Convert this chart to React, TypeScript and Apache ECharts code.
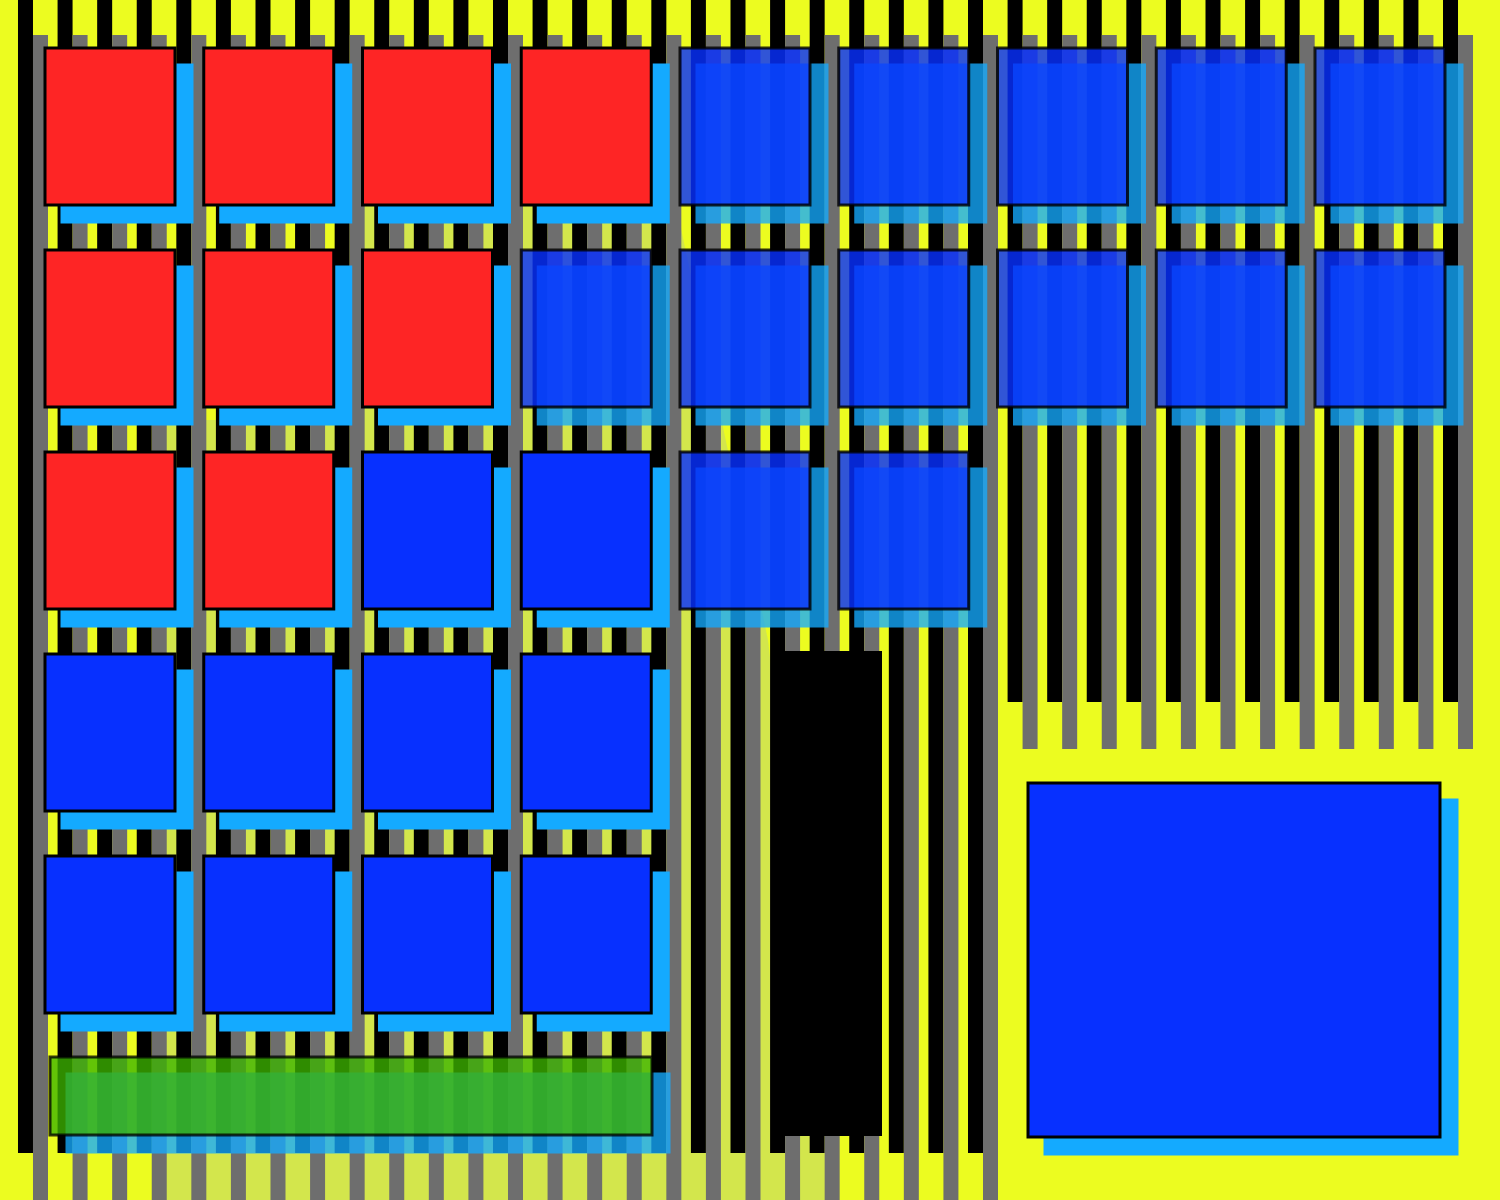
import React, { useEffect, useRef } from "react";
import * as echarts from "echarts";

// ---- stripe data (37 category bands, black bar from top, gray bar from GRAY_START) ----
const stripeCategories = [
  "S1","S2","S3","S4","S5","S6","S7","S8","S9","S10","S11","S12","S13","S14","S15","S16","S17","S18","S19",
  "S20","S21","S22","S23","S24","S25","S26","S27","S28","S29","S30","S31","S32","S33","S34","S35","S36","S37",
];
const blackEnd = [
  1153,1153,1153,1153,1153,1153,1153,1153,1153,1153,1153,1153,1153,1153,1153,1153,1153,1153,1153,1153,1153,1153,1153,1153,1153,
  702,702,702,702,702,702,702,702,702,702,702,702,
];
const grayStart = 35;
const grayEnd = [
  1200,1200,1200,1200,1200,1200,1200,1200,1200,1200,1200,1200,1200,1200,1200,1200,1200,1200,1200,1200,1200,1200,1200,1200,1200,
  749,749,749,749,749,749,749,749,749,749,749,749,
];

// ---- waffle cells: [column, row, kind]  kind 0 = red, 1 = blue, 2 = translucent blue ----
const redCells = [[0,0],[1,0],[2,0],[3,0],[0,1],[1,1],[2,1],[0,2],[1,2]];
const blueCells = [[2,2],[3,2],[0,3],[1,3],[2,3],[3,3],[0,4],[1,4],[2,4],[3,4]];
const translucentCells = [
  [4,0],[5,0],[6,0],[7,0],[8,0],
  [3,1],[4,1],[5,1],[6,1],[7,1],[8,1],
  [4,2],[5,2],
];

// ---- free blocks in page units: [x0, y0, x1, y1, kind] kind 1 = blue, 3 = green, 4 = black ----
const blocks = [
  [50, 1057, 652, 1135, 3],
  [772, 651, 882, 1136, 4],
  [1028, 783, 1440, 1137, 1],
];

// ---- pale region outline in page units ----
const paleRegion = [
  [348, 205], [676, 205], [768, 640], [832, 1200], [158, 1200], [165, 420], [348, 420],
];

const COLORS = {
  bg: "#ecfc20",
  black: "#000000",
  gray: "#6e6e6e",
  red: "#fe2525",
  blue: "#0730ff",
  shadow: "#14aaff",
  green: "#3cb400",
  pale: "rgba(170,195,150,0.38)",
};

export default function App() {
  const ref = useRef<HTMLDivElement>(null);
  useEffect(() => {
    document.body.style.margin = "0";
    if (!ref.current) return;
    const chart = echarts.init(ref.current, null, { renderer: "svg" });

    const SH = 17; // shadow offset
    const cellData = [
      ...redCells.map((c) => [c[0], c[1], 0]),
      ...blueCells.map((c) => [c[0], c[1], 1]),
      ...translucentCells.map((c) => [c[0], c[1], 2]),
    ];

    const boxItem = (x: number, y: number, w: number, h: number, kind: number) => {
      const fill = kind === 0 ? COLORS.red : kind === 3 ? COLORS.green : kind === 4 ? COLORS.black : COLORS.blue;
      const op = kind === 2 ? 0.82 : kind === 3 ? 0.78 : 1;
      const children: any[] = [];
      if (kind !== 4) {
        children.push({
          type: "rect",
          shape: { x: x - 1.5 + SH, y: y - 1.5 + SH, width: w + 3, height: h + 3 },
          style: { fill: COLORS.shadow, opacity: kind === 2 || kind === 3 ? 0.78 : 1 },
        });
        children.push({
          type: "rect",
          shape: { x, y, width: w, height: h },
          style: { fill, stroke: "#000", lineWidth: 3, opacity: op },
        });
      } else {
        children.push({ type: "rect", shape: { x, y, width: w, height: h }, style: { fill } });
      }
      return { type: "group", children };
    };

    const option: any = {
      animation: false,
      backgroundColor: COLORS.bg,
      grid: [
        { left: 13.2, top: 0, width: 1464.6, height: 1200 },
        { left: 30.6, top: 25.5, width: 1428.75, height: 1010 },
        { left: 0, top: 0, width: 1500, height: 1200 },
      ],
      xAxis: [
        { type: "category", gridIndex: 0, data: stripeCategories, show: false, boundaryGap: true },
        { type: "value", gridIndex: 1, min: 0, max: 9, show: false },
        { type: "value", gridIndex: 2, min: 0, max: 1500, show: false },
      ],
      yAxis: [
        { type: "value", gridIndex: 0, min: 0, max: 1200, inverse: true, show: false },
        { type: "value", gridIndex: 1, min: 0, max: 5, inverse: true, show: false },
        { type: "value", gridIndex: 2, min: 0, max: 1200, inverse: true, show: false },
      ],
      series: [
        {
          type: "custom",
          name: "pale",
          xAxisIndex: 2,
          yAxisIndex: 2,
          z: 0,
          silent: true,
          clip: false,
          data: [[0, 0]],
          renderItem: (_p: any, api: any) => ({
            type: "polygon",
            shape: { points: paleRegion.map((pt) => api.coord(pt)) },
            style: { fill: COLORS.pale },
          }),
        },
        {
          type: "bar",
          name: "black",
          xAxisIndex: 0,
          yAxisIndex: 0,
          z: 2,
          barWidth: 15,
          barGap: "0%",
          data: blackEnd,
          itemStyle: { color: COLORS.black },
        },
        {
          type: "bar",
          name: "grayBase",
          xAxisIndex: 0,
          yAxisIndex: 0,
          z: 2,
          stack: "g",
          barWidth: 15,
          barGap: "0%",
          data: grayEnd.map(() => grayStart),
          itemStyle: { color: "rgba(0,0,0,0)" },
        },
        {
          type: "bar",
          name: "gray",
          xAxisIndex: 0,
          yAxisIndex: 0,
          z: 2,
          stack: "g",
          barWidth: 15,
          barGap: "0%",
          data: grayEnd.map((v) => v - grayStart),
          itemStyle: { color: COLORS.gray },
        },
        {
          type: "custom",
          name: "cells",
          xAxisIndex: 1,
          yAxisIndex: 1,
          z: 5,
          clip: false,
          data: cellData,
          renderItem: (_p: any, api: any) => {
            const c = api.value(0);
            const r = api.value(1);
            const k = api.value(2);
            const p0 = api.coord([c + 0.0907, r + 0.1114]);
            const p1 = api.coord([c + 0.9096, r + 0.8886]);
            return boxItem(p0[0], p0[1], p1[0] - p0[0], p1[1] - p0[1], k);
          },
        },
        {
          type: "custom",
          name: "blocks",
          xAxisIndex: 2,
          yAxisIndex: 2,
          z: 5,
          clip: false,
          data: blocks,
          renderItem: (_p: any, api: any) => {
            const p0 = api.coord([api.value(0), api.value(1)]);
            const p1 = api.coord([api.value(2), api.value(3)]);
            return boxItem(p0[0], p0[1], p1[0] - p0[0], p1[1] - p0[1], api.value(4));
          },
        },
      ],
    };
    chart.setOption(option);
    return () => chart.dispose();
  }, []);
  return <div ref={ref} style={{ width: 1500, height: 1200 }} />;
}
